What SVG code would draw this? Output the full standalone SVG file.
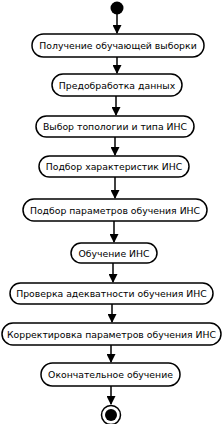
<svg xmlns="http://www.w3.org/2000/svg" width="223" height="424" viewBox="0 0 223 424">
<defs>
<style>
.n rect{fill:#fff;stroke:#000;stroke-width:1.5}
.n text{font-family:"DejaVu Sans",sans-serif;font-size:9.3px;fill:#000;text-anchor:middle;dominant-baseline:central}
.c line{stroke:#000;stroke-width:1.5;marker-end:url(#a)}
</style>
<marker id="a" markerWidth="9" markerHeight="9" refX="8" refY="4.5" orient="auto" markerUnits="userSpaceOnUse"><path d="M0,0L9,4.5L0,9Z" fill="#000"/></marker>
</defs>
<rect width="223" height="424" fill="#fff"/>
<g id="connectors" class="c">
<line x1="117" y1="14" x2="117" y2="33"/>
<line x1="117" y1="57" x2="117" y2="73"/>
<line x1="116" y1="96" x2="116" y2="115"/>
<line x1="115" y1="137" x2="115" y2="155"/>
<line x1="115" y1="177" x2="115" y2="198"/>
<line x1="114" y1="221" x2="114" y2="242"/>
<line x1="113" y1="263" x2="113" y2="282"/>
<line x1="112" y1="304" x2="112" y2="322"/>
<line x1="111" y1="345" x2="111" y2="362"/>
<line x1="111" y1="386" x2="111" y2="404"/>
</g>
<g id="start"><circle cx="117" cy="8" r="6.5" fill="#000"/></g>
<g id="n1" class="n"><rect x="32" y="34" width="172" height="23" rx="11.5"/><text x="118" y="45.5">Получение обучающей выборки</text></g>
<g id="n2" class="n"><rect x="52" y="74" width="130" height="22" rx="11"/><text x="117" y="85">Предобработка данных</text></g>
<g id="n3" class="n"><rect x="36" y="116" width="158" height="21" rx="10.5"/><text x="115" y="126.5">Выбор топологии и типа ИНС</text></g>
<g id="n4" class="n"><rect x="39" y="156" width="150" height="21" rx="10.5"/><text x="114" y="166.5">Подбор характеристик ИНС</text></g>
<g id="n5" class="n"><rect x="23" y="199" width="184" height="22" rx="11"/><text x="115" y="210">Подбор параметров обучения ИНС</text></g>
<g id="n6" class="n"><rect x="71" y="243" width="86" height="20" rx="10"/><text x="114" y="253">Обучение ИНС</text></g>
<g id="n7" class="n"><rect x="10" y="283" width="203" height="21" rx="10.5"/><text x="111.5" y="293.5">Проверка адекватности обучения ИНС</text></g>
<g id="n8" class="n"><rect x="2" y="323" width="219" height="22" rx="11"/><text x="111.5" y="334">Корректировка параметров обучения ИНС</text></g>
<g id="n9" class="n"><rect x="41" y="363" width="139" height="23" rx="11.5"/><text x="110.5" y="374.5">Окончательное обучение</text></g>
<g id="end"><circle cx="111" cy="415" r="9.5" fill="#fff" stroke="#000" stroke-width="1.5"/><circle cx="111" cy="415" r="6" fill="#000"/></g>
</svg>
